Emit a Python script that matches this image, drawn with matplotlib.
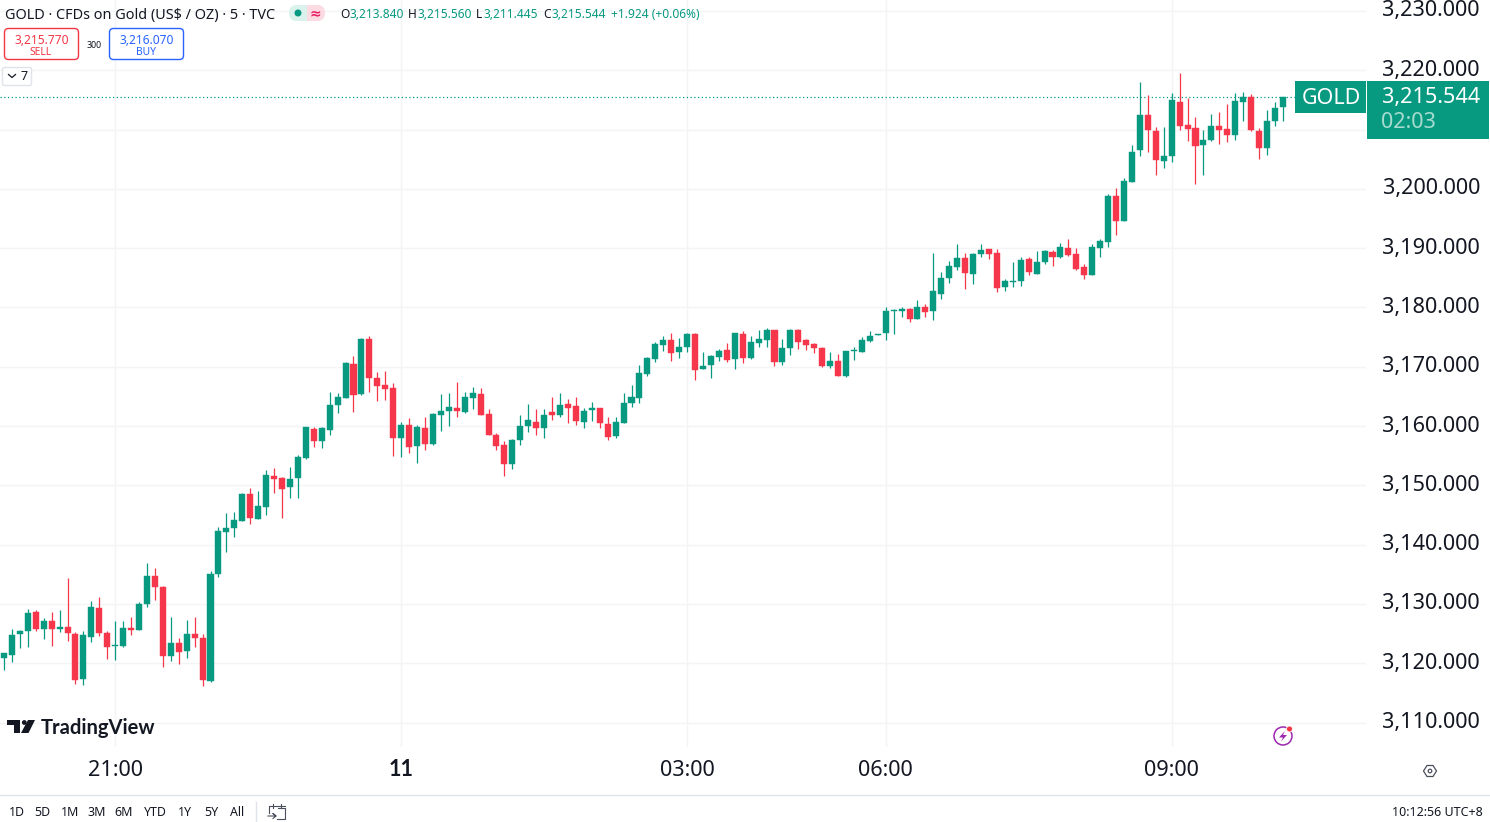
import matplotlib
matplotlib.use('Agg')
import matplotlib.pyplot as plt
from matplotlib.patches import Rectangle, FancyBboxPatch, Circle, Polygon

plt.rcParams['font.family'] = ['Noto Sans', 'DejaVu Sans']

# 5 minute candles
opens = [
    3120.95,3121.45,3124.88,3125.39,3128.64,3125.83,3127.07,3125.83,3126.12,3125.00,
    3117.29,3124.43,3129.26,3125.16,3122.97,3122.97,3125.95,3125.67,3129.94,3134.77,
    3132.92,3121.28,3123.36,3122.07,3124.88,3124.20,3116.96,3135.00,3142.13,3142.75,
    3143.99,3148.54,3144.32,3146.42,3151.59,3151.20,3149.68,3151.32,3154.63,3159.47,
    3157.50,3159.41,3163.63,3164.75,3170.54,3165.42,3174.64,3168.18,3166.88,3166.38,
    3157.95,3160.25,3156.71,3159.64,3157.00,3161.88,3162.56,3163.06,3162.39,3164.75,
    3165.48,3162.00,3158.51,3156.83,3153.68,3157.67,3160.03,3160.70,3159.69,3162.33,
    3161.88,3163.74,3163.40,3160.75,3162.72,3163.11,3160.41,3158.39,3160.58,3163.95,
    3164.74,3168.84,3171.32,3173.73,3174.52,3172.50,3173.28,3175.59,3169.57,3170.25,
    3171.65,3172.78,3171.32,3175.59,3171.49,3174.07,3174.52,3176.21,3170.75,3173.12,
    3176.21,3174.46,3173.85,3173.23,3170.08,3170.98,3168.45,3172.61,3172.44,3174.35,
    3175.36,3175.76,3179.47,3179.47,3179.70,3178.01,3180.04,3179.42,3182.28,3184.93,
    3186.84,3188.35,3185.60,3189.03,3189.81,3189.20,3183.52,3184.36,3184.48,3188.18,
    3185.71,3187.68,3189.36,3188.58,3189.98,3189.03,3186.84,3185.43,3189.98,3191.05,
    3198.81,3194.65,3201.11,3206.51,3212.41,3209.77,3204.77,3205.55,3214.66,3210.84,
    3210.33,3207.47,3208.20,3210.67,3210.05,3209.15,3214.71,3215.50,3209.77,3206.96,
    3211.40,3213.84]
closes = [
    3121.68,3124.82,3125.50,3128.48,3125.83,3127.07,3125.83,3126.12,3125.10,3117.18,
    3124.71,3129.43,3125.10,3122.69,3123.08,3125.95,3125.67,3130.05,3134.77,3132.80,
    3121.28,3123.36,3121.90,3124.88,3124.32,3117.18,3135.11,3142.25,3142.86,3144.10,
    3148.54,3144.49,3146.52,3151.76,3151.14,3149.40,3151.14,3154.75,3159.80,3157.50,
    3159.64,3163.57,3164.97,3170.71,3165.20,3174.64,3168.07,3166.83,3166.32,3157.95,
    3160.25,3156.54,3159.80,3157.00,3162.00,3162.61,3163.23,3162.50,3164.86,3165.59,
    3161.88,3158.45,3156.71,3153.68,3157.72,3160.08,3161.04,3159.69,3161.83,3161.88,
    3163.57,3163.06,3160.82,3162.61,3163.11,3160.47,3158.22,3160.70,3163.84,3164.85,
    3168.90,3171.49,3173.85,3174.52,3172.33,3173.40,3175.59,3169.46,3170.19,3171.82,
    3172.61,3171.20,3175.64,3171.49,3174.18,3174.63,3176.21,3170.87,3173.17,3176.21,
    3174.24,3173.73,3173.12,3170.08,3170.98,3168.51,3172.61,3172.78,3174.46,3175.14,
    3175.48,3179.42,3179.59,3179.75,3178.12,3180.04,3179.25,3182.85,3184.93,3187.00,
    3188.41,3185.77,3188.97,3189.65,3189.03,3183.35,3184.48,3184.48,3188.07,3185.94,
    3187.73,3189.48,3188.58,3190.15,3188.92,3186.50,3185.49,3190.15,3191.22,3198.81,
    3194.65,3201.34,3206.30,3212.41,3210.00,3204.94,3205.61,3214.94,3210.61,3210.11,
    3207.30,3208.31,3210.67,3210.00,3209.15,3214.77,3215.45,3209.94,3206.96,3211.46,
    3213.65,3215.544]
highs = [
    3121.79,3125.78,3125.61,3129.09,3128.98,3127.58,3128.64,3128.98,3134.32,3125.27,
    3125.50,3130.44,3131.17,3125.50,3127.07,3127.07,3127.75,3130.33,3136.85,3136.01,
    3133.03,3127.86,3124.20,3127.24,3127.86,3124.88,3135.56,3143.03,3145.28,3145.50,
    3148.65,3149.50,3149.05,3152.60,3152.88,3151.42,3153.16,3155.08,3159.92,3159.80,
    3159.80,3165.82,3165.65,3170.82,3171.83,3174.81,3175.20,3169.13,3169.30,3167.22,
    3160.70,3161.32,3160.14,3161.49,3162.16,3165.37,3165.65,3167.39,3165.76,3166.60,
    3166.38,3162.95,3158.79,3157.44,3157.84,3161.83,3163.74,3162.95,3162.84,3164.86,
    3165.65,3164.58,3164.86,3163.06,3164.01,3163.11,3161.54,3161.54,3165.64,3166.88,
    3170.25,3171.60,3174.18,3175.14,3175.76,3174.80,3175.70,3175.70,3172.44,3171.93,
    3173.06,3173.96,3175.76,3176.04,3175.14,3176.21,3176.54,3176.21,3174.63,3176.32,
    3176.32,3174.63,3174.01,3173.40,3172.44,3172.10,3172.72,3173.40,3174.97,3176.04,
    3175.48,3180.04,3179.70,3180.15,3179.87,3181.27,3180.65,3189.20,3186.05,3187.79,
    3190.66,3189.20,3189.14,3190.77,3189.81,3189.81,3184.81,3187.62,3188.58,3188.52,
    3189.53,3189.70,3189.70,3190.94,3191.56,3189.98,3187.34,3190.66,3191.56,3199.09,
    3200.10,3201.85,3207.41,3217.97,3215.90,3210.39,3210.39,3216.12,3219.49,3215.28,
    3212.13,3209.88,3212.58,3212.92,3214.32,3216.12,3216.29,3216.06,3210.22,3213.37,
    3214.66,3215.56]
lows = [
    3118.87,3120.27,3122.52,3122.80,3125.50,3124.09,3122.97,3125.33,3123.76,3116.56,
    3116.39,3123.64,3124.54,3120.78,3120.55,3122.80,3124.71,3125.67,3129.43,3130.67,
    3119.37,3120.44,3119.82,3120.95,3122.80,3116.22,3116.84,3134.55,3138.82,3141.29,
    3143.99,3143.54,3144.27,3145.01,3148.78,3144.45,3147.94,3147.90,3154.52,3156.49,
    3156.32,3158.51,3162.16,3164.75,3162.33,3165.31,3165.82,3164.24,3164.41,3154.91,
    3154.75,3155.53,3153.79,3156.04,3156.88,3159.19,3159.97,3161.55,3162.28,3162.84,
    3161.88,3158.45,3156.04,3151.65,3152.83,3156.83,3159.07,3158.51,3157.95,3161.04,
    3161.60,3160.59,3160.25,3159.68,3160.92,3159.68,3157.72,3158.05,3160.47,3163.28,
    3163.95,3168.45,3170.87,3172.61,3171.04,3171.49,3172.44,3167.83,3169.57,3168.11,
    3171.04,3170.87,3169.63,3170.70,3171.26,3173.40,3173.40,3170.20,3170.36,3171.99,
    3173.06,3172.89,3172.27,3169.91,3169.80,3168.51,3168.34,3171.20,3172.44,3174.18,
    3175.36,3174.53,3175.54,3178.46,3177.56,3178.01,3178.46,3177.84,3181.44,3184.20,
    3186.33,3183.07,3183.97,3188.58,3188.18,3182.56,3182.85,3183.52,3183.69,3185.49,
    3185.60,3187.34,3187.00,3188.41,3188.75,3186.39,3184.81,3185.43,3188.58,3190.16,
    3192.23,3194.65,3201.11,3205.50,3206.17,3202.35,3203.59,3204.60,3209.99,3208.03,
    3200.78,3202.35,3208.08,3207.58,3207.86,3208.20,3211.46,3209.83,3205.05,3205.78,
    3210.67,3211.445]

price_ticks = [3110, 3120, 3130, 3140, 3150, 3160, 3170, 3180, 3190, 3200, 3210, 3220, 3230]
hidden_price = 3210  # sits under the last price tag
time_ticks = [14, 50, 86, 111, 147]
time_labels = ['21:00', '11', '03:00', '06:00', '09:00']
range_labels = ['1D', '5D', '1M', '3M', '6M', 'YTD', '1Y', '5Y', 'All']
range_x = [17, 42, 70, 97, 124, 155, 185, 211, 237]

UP = '#089981'
DOWN = '#F6364A'
INK = '#131722'
GRID = '#f3f4f6'
W, H = 1490, 822

fig = plt.figure(figsize=(W/100, H/100), dpi=100, facecolor='white')

# price pane, pixel box 0..1366 x 0..747
ax = fig.add_axes([0, 1 - 747/H, 1366/W, 747/H])
ax.set_xlim(-0.5, 171.466)
ax.set_ylim(3105.88, 3231.85)
for s in ax.spines.values():
    s.set_visible(False)
ax.set_yticks(price_ticks)
ax.set_xticks(time_ticks)
ax.set_xticklabels(time_labels, fontsize=15.6, color=INK)
ax.get_xticklabels()[1].set(fontfamily='Lato', fontweight='bold')
ax.tick_params(axis='y', length=0, labelleft=False)
ax.tick_params(axis='x', length=0, pad=9)
ax.grid(True, color=GRID, lw=1)
ax.set_axisbelow(True)

for p in price_ticks:
    if p == hidden_price:
        continue
    ax.annotate('{:,.3f}'.format(p), xy=(1, p), xycoords=('axes fraction', 'data'),
                xytext=(82, 0), textcoords='offset points', ha='right', va='center',
                fontsize=15.6, color=INK, annotation_clip=False)

xs = list(range(len(opens)))
colors = [UP if c >= o else DOWN for o, c in zip(opens, closes)]
ax.vlines(xs, lows, highs, colors=colors, lw=0.9, zorder=3)
ax.bar(xs, [abs(c - o) for o, c in zip(opens, closes)],
       bottom=[min(o, c) for o, c in zip(opens, closes)],
       width=0.76, color=colors, edgecolor=colors, lw=0.3, zorder=4)
ax.axhline(closes[-1], color=UP, lw=0.9, ls=(0, (1, 2)), zorder=2)

# everything else is placed in screen pixels
ov = fig.add_axes([0, 0, 1, 1], facecolor='none')
ov.set_xlim(0, W)
ov.set_ylim(H, 0)
ov.axis('off')


def label(x, y, s, size=9, color=INK, ha='left', **kw):
    ov.text(x, y, s, fontsize=size, color=color, ha=ha, va='center', **kw)


def box(x0, y0, x1, y1, edge, face='white', r=3):
    ov.add_patch(FancyBboxPatch((x0 + r, y0 + r), x1 - x0 - 2*r, y1 - y0 - 2*r,
                                boxstyle='round,pad={}'.format(r), fc=face, ec=edge, lw=1))


# header
label(5, 16, 'GOLD · CFDs on Gold (US$ / OZ) · 5 · TVC', size=10.4)
ov.add_patch(FancyBboxPatch((292, 8), 30, 10, boxstyle='round,pad=3,rounding_size=8',
                            fc='#daf1ec', ec='none'))
ov.add_patch(FancyBboxPatch((310, 8), 12, 10, boxstyle='round,pad=3,rounding_size=8',
                            fc='#fcdbe3', ec='none'))
ov.add_patch(Rectangle((307, 5), 8, 16, fc='#fcdbe3', ec='none'))
ov.add_patch(Circle((298, 13), 3.5, fc=UP, ec='none'))
label(315, 14, '≈', size=10, color='#e91e63', ha='center', fontweight='bold')

for x, s in [(340, 'O'), (408, 'H'), (476, 'L'), (543, 'C')]:
    label(x, 14.5, s, size=8.6)
for x, s in [(349, '3,213.840'), (417, '3,215.560'), (484, '3,211.445'),
             (551, '3,215.544'), (611, '+1.924 (+0.06%)')]:
    label(x, 14.5, s, size=8.6, color=UP)

box(4.5, 28.5, 78.5, 59.5, '#f23645', r=4)
label(41.5, 40.5, '3,215.770', size=8.6, color='#f23645', ha='center')
label(41, 52.5, 'SELL', size=7.4, color='#f23645', ha='center')
label(94, 45, '300', size=6.4, ha='center')
box(109.5, 28.5, 183.5, 59.5, '#2962ff', r=4)
label(146.5, 40.5, '3,216.070', size=8.6, color='#2962ff', ha='center')
label(146, 52.5, 'BUY', size=7.4, color='#2962ff', ha='center')

box(2.5, 67.5, 31.5, 85.5, '#e0e3eb', r=2)
ov.plot([8.5, 12, 15.5], [74.5, 77.5, 74.5], color=INK, lw=0.9)
label(24, 76.5, '7', size=9, ha='center')

# last price tags
ov.add_patch(Rectangle((1295, 81), 71, 32, fc=UP, ec='none'))
ov.add_patch(Rectangle((1367, 81), 122, 58, fc=UP, ec='none'))
label(1331, 99, 'GOLD', size=15.5, color='white', ha='center')
label(1480, 97, '3,215.544', size=15.6, color='white', ha='right')
label(1381, 123, '02:03', size=15.6, color='#a6dccf')

# TradingView mark
ov.add_patch(Polygon([(7, 720), (20, 720), (20, 733), (13.5, 733), (13.5, 724.5), (7, 724.5)],
                     fc=INK, ec='none'))
ov.add_patch(Circle((24.3, 722.5), 2.4, fc=INK, ec='none'))
ov.add_patch(Polygon([(28, 720), (35, 720), (28.5, 733), (21, 733)], fc=INK, ec='none'))
label(41, 728, 'TradingView', size=14.5, fontfamily='Lato', fontweight='bold')

# small icons
ov.add_patch(Circle((1283, 736), 9, fc='none', ec='#9c27b0', lw=1.1))
ov.add_patch(Polygon([(1285, 731), (1279, 737.5), (1283, 737.5), (1281, 741.5), (1287, 735),
                      (1283, 735)], fc='#9c27b0', ec='none'))
ov.add_patch(Circle((1289.5, 729), 3, fc='#f23645', ec='white', lw=0.6))
ov.add_patch(Polygon([(1423.5, 771), (1427, 765.5), (1433, 765.5), (1436.5, 771), (1433, 776.5),
                      (1427, 776.5)], fc='none', ec='#4a4f5c', lw=0.9))
ov.add_patch(Circle((1430, 771), 1.8, fc='none', ec='#4a4f5c', lw=0.9))

# bottom bar
ov.plot([0, W], [794.5, 794.5], color='#e0e3eb', lw=1)
ov.plot([255.5, 255.5], [802, 822], color='#e0e3eb', lw=1)
for x, s in zip(range_x, range_labels):
    label(x, 812.5, s, size=8.9, ha='center')
ov.plot([278, 285, 285, 277], [808, 808, 819, 819], color='#4a4f5c', lw=0.8)
ov.plot([269, 269, 285], [813, 806, 806], color='#4a4f5c', lw=0.8)
ov.plot([273, 273], [804, 808], color='#4a4f5c', lw=0.8)
ov.plot([281, 281], [804, 808], color='#4a4f5c', lw=0.8)
ov.plot([268, 276, 273, 276, 273], [816, 816, 813.5, 816, 818.5], color='#4a4f5c', lw=0.8)
label(1483, 812.5, '10:12:56 UTC+8', size=9, ha='right')

fig.savefig('out.png', dpi=100)
